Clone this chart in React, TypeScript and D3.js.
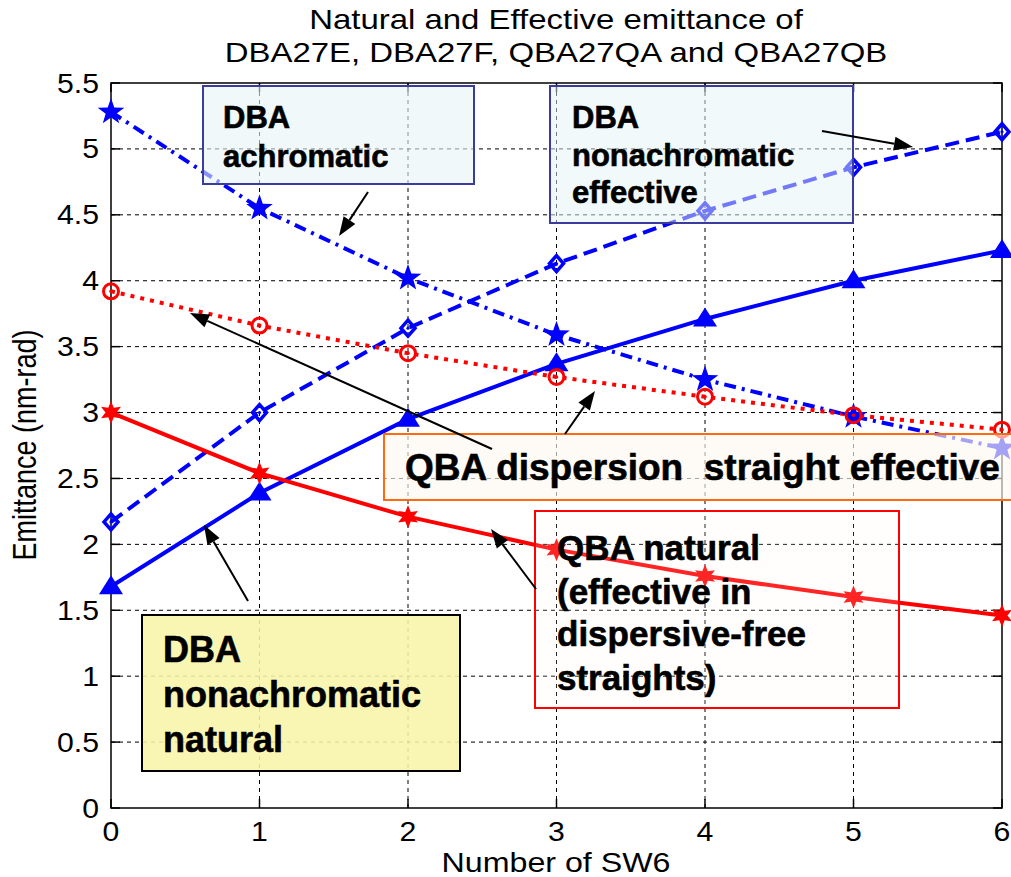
import React from "react";
import * as d3 from "d3";

// Number of SW6 cells inserted
const swCounts = [0, 1, 2, 3, 4, 5, 6];

// Emittance (nm-rad) for each lattice variant
const dbaAchromatic = [5.28, 4.55, 4.02, 3.59, 3.25, 2.97, 2.73];
const dbaNonachromaticEffective = [2.17, 3.0, 3.64, 4.13, 4.53, 4.86, 5.13];
const dbaNonachromaticNatural = [1.68, 2.39, 2.95, 3.37, 3.71, 4.0, 4.23];
const qbaDispersionEffective = [3.92, 3.66, 3.45, 3.27, 3.12, 2.98, 2.87];
const qbaNatural = [3.0, 2.54, 2.21, 1.96, 1.76, 1.6, 1.46];

const yTickValues = [0, 0.5, 1, 1.5, 2, 2.5, 3, 3.5, 4, 4.5, 5, 5.5];
const yTickLabels = ["0", "0.5", "1", "1.5", "2", "2.5", "3", "3.5", "4", "4.5", "5", "5.5"];
const xTickValues = [0, 1, 2, 3, 4, 5, 6];
const xTickLabels = ["0", "1", "2", "3", "4", "5", "6"];

const titleLines = ["Natural and Effective emittance of", "DBA27E, DBA27F, QBA27QA and QBA27QB"];
const xAxisTitle = "Number of SW6";
const yAxisTitle = "Emittance (nm-rad)";

const W = 1011;
const H = 877;
const FONT = "'Liberation Sans', Arial, Helvetica, sans-serif";

const x = d3.scaleLinear().domain([0, 6]).range([111, 1002]);
const y = d3.scaleLinear().domain([0, 5.5]).range([808, 83]);

const BLUE = "#0000ff";
const RED = "#ff0000";

function starPath(cx: number, cy: number, n: number, outer: number, inner: number) {
  const pts: [number, number][] = [];
  for (let i = 0; i < n * 2; i++) {
    const r = i % 2 === 0 ? outer : inner;
    const a = -Math.PI / 2 + (i * Math.PI) / n;
    pts.push([cx + r * Math.cos(a), cy + r * Math.sin(a)]);
  }
  return "M" + pts.map((p) => p.join(",")).join("L") + "Z";
}

function trianglePath(cx: number, cy: number, w: number, h: number) {
  return `M${cx},${cy - h * 0.6}L${cx + w / 2},${cy + h * 0.4}L${cx - w / 2},${cy + h * 0.4}Z`;
}

function diamondPath(cx: number, cy: number, rx: number, ry: number) {
  return `M${cx},${cy - ry}L${cx + rx},${cy}L${cx},${cy + ry}L${cx - rx},${cy}Z`;
}

const line = d3
  .line<number>()
  .x((_, i) => x(swCounts[i]))
  .y((d) => y(d));

function Txt(props: {
  x: number;
  y: number;
  size: number;
  sx?: number;
  sy?: number;
  rotate?: number;
  anchor?: "start" | "middle" | "end";
  bold?: boolean;
  children: React.ReactNode;
}) {
  const { sx = 1, sy = 1, rotate = 0 } = props;
  return (
    <text
      transform={`translate(${props.x},${props.y}) rotate(${rotate}) scale(${sx},${sy})`}
      fontSize={props.size}
      fontFamily={FONT}
      fontWeight={props.bold ? "bold" : "normal"}
      textAnchor={props.anchor ?? "start"}
      fill="#000"
      stroke={props.bold ? "#000" : "none"}
      strokeWidth={props.bold ? 0.6 : 0}
    >
      {props.children}
    </text>
  );
}

function Arrow({ x1, y1, x2, y2 }: { x1: number; y1: number; x2: number; y2: number }) {
  const ang = Math.atan2(y2 - y1, x2 - x1);
  const len = 19;
  const hw = 7;
  const bx = x2 - len * Math.cos(ang);
  const by = y2 - len * Math.sin(ang);
  const px = -Math.sin(ang) * hw;
  const py = Math.cos(ang) * hw;
  return (
    <g>
      <line x1={x1} y1={y1} x2={bx} y2={by} stroke="#000" strokeWidth={2} />
      <path d={`M${x2},${y2}L${bx + px},${by + py}L${bx - px},${by - py}Z`} fill="#000" />
    </g>
  );
}

export default function App() {
  const [x0, x1] = x.range();
  const [y0, y1] = y.range();
  return (
    <svg
      width={W}
      height={H}
      viewBox={`0 0 ${W} ${H}`}
      style={{ position: "absolute", left: 0, top: 0, background: "#fff" }}
    >
      <rect x={0} y={0} width={W} height={H} fill="#fff" />

      {/* title */}
      <Txt x={556} y={29} size={27} sx={1.22} anchor="middle">{titleLines[0]}</Txt>
      <Txt x={556} y={62} size={27} sx={1.22} anchor="middle">{titleLines[1]}</Txt>

      {/* grid */}
      <g stroke="#000" strokeWidth={1} strokeDasharray="4,4">
        {yTickValues.slice(1, -1).map((v) => (
          <line key={"gy" + v} x1={x0} x2={x1} y1={y(v)} y2={y(v)} />
        ))}
        {xTickValues.slice(1, -1).map((v) => (
          <line key={"gx" + v} x1={x(v)} x2={x(v)} y1={y0} y2={y1} />
        ))}
      </g>

      {/* axes box and ticks */}
      <rect x={x0} y={y1} width={x1 - x0} height={y0 - y1} fill="none" stroke="#000" strokeWidth={1.5} />
      <g stroke="#000" strokeWidth={1.5}>
        {yTickValues.map((v) => (
          <g key={"ty" + v}>
            <line x1={x0} x2={x0 + 9} y1={y(v)} y2={y(v)} />
            <line x1={x1} x2={x1 - 9} y1={y(v)} y2={y(v)} />
          </g>
        ))}
        {xTickValues.map((v) => (
          <g key={"tx" + v}>
            <line x1={x(v)} x2={x(v)} y1={y0} y2={y0 - 9} />
            <line x1={x(v)} x2={x(v)} y1={y1} y2={y1 + 9} />
          </g>
        ))}
      </g>
      {yTickValues.map((v, i) => (
        <Txt key={"ly" + v} x={99} y={y(v) + 9.5} size={27} sx={1.12} anchor="end">
          {yTickLabels[i]}
        </Txt>
      ))}
      {xTickValues.map((v, i) => (
        <Txt key={"lx" + v} x={x(v)} y={841} size={27} sx={1.12} anchor="middle">
          {xTickLabels[i]}
        </Txt>
      ))}
      <Txt x={556} y={872} size={28} sx={1.15} anchor="middle">{xAxisTitle}</Txt>
      <Txt x={36} y={445} size={27} sy={1.2} rotate={-90} anchor="middle">{yAxisTitle}</Txt>

      {/* series lines */}
      <path d={line(dbaAchromatic) ?? ""} fill="none" stroke={BLUE} strokeWidth={4} strokeDasharray="12,6,3,6" />
      <path d={line(dbaNonachromaticEffective) ?? ""} fill="none" stroke={BLUE} strokeWidth={4} strokeDasharray="14,7" />
      <path d={line(dbaNonachromaticNatural) ?? ""} fill="none" stroke={BLUE} strokeWidth={4} />
      <path d={line(qbaDispersionEffective) ?? ""} fill="none" stroke={RED} strokeWidth={4} strokeDasharray="4,6" />
      <path d={line(qbaNatural) ?? ""} fill="none" stroke={RED} strokeWidth={4} />

      {/* markers */}
      {dbaAchromatic.map((v, i) => (
        <path key={"m1" + i} d={starPath(x(swCounts[i]), y(v), 5, 14, 5.6)} fill={BLUE} />
      ))}
      {dbaNonachromaticEffective.map((v, i) => (
        <g key={"m2" + i}>
          <path d={diamondPath(x(swCounts[i]), y(v), 7, 8)} fill="none" stroke={BLUE} strokeWidth={3.5} />
          <circle cx={x(swCounts[i])} cy={y(v)} r={1.6} fill={BLUE} />
        </g>
      ))}
      {dbaNonachromaticNatural.map((v, i) => (
        <path key={"m3" + i} d={trianglePath(x(swCounts[i]), y(v), 24, 19)} fill={BLUE} />
      ))}
      {qbaDispersionEffective.map((v, i) => (
        <g key={"m4" + i}>
          <circle cx={x(swCounts[i])} cy={y(v)} r={7.5} fill="none" stroke={RED} strokeWidth={3} />
          <circle cx={x(swCounts[i])} cy={y(v)} r={1.8} fill={RED} />
        </g>
      ))}
      {qbaNatural.map((v, i) => (
        <path key={"m5" + i} d={starPath(x(swCounts[i]), y(v), 6, 11.5, 5.5)} fill={RED} />
      ))}

      {/* annotation boxes */}
      <rect x={203} y={86} width={271} height={98} fill="#e6f3f5" fillOpacity={0.6} stroke="#3b3b9e" strokeWidth={2} />
      <Txt x={223} y={128} size={31} bold>DBA</Txt>
      <Txt x={223} y={167} size={31} bold>achromatic</Txt>

      <rect x={550} y={86} width={303} height={137} fill="#e6f3f5" fillOpacity={0.5} stroke="#3b3b9e" strokeWidth={2} />
      <Txt x={572} y={128} size={31} bold>DBA</Txt>
      <Txt x={572} y={166} size={31} bold>nonachromatic</Txt>
      <Txt x={572} y={203} size={31} bold>effective</Txt>

      <rect x={384} y={434} width={660} height={66} fill="#fdf8f0" fillOpacity={0.65} stroke="#ff6a10" strokeWidth={2} />
      <Txt x={405} y={480} size={37} bold>QBA dispersion{"\u00a0\u00a0"}straight effective</Txt>

      <rect x={535} y={511} width={364} height={197} fill="#fdf8f2" fillOpacity={0.15} stroke={RED} strokeWidth={2} />
      <Txt x={557} y={560} size={35} bold>QBA natural</Txt>
      <Txt x={557} y={604} size={35} bold>(effective in</Txt>
      <Txt x={557} y={646} size={35} bold>dispersive-free</Txt>
      <Txt x={557} y={690} size={35} bold>straights)</Txt>

      <rect x={142} y={615} width={318} height={156} fill="#f8f4a8" fillOpacity={0.88} stroke="#000" strokeWidth={2} />
      <Txt x={163} y={662} size={36} bold>DBA</Txt>
      <Txt x={163} y={707} size={36} bold>nonachromatic</Txt>
      <Txt x={163} y={752} size={36} bold>natural</Txt>

      {/* arrows */}
      <Arrow x1={368} y1={192} x2={339} y2={236} />
      <Arrow x1={822} y1={131} x2={913} y2={147} />
      <Arrow x1={492} y1={449} x2={190} y2={313} />
      <Arrow x1={565} y1={434} x2={595} y2={391} />
      <Arrow x1={248} y1={601} x2={204} y2={525} />
      <Arrow x1={536} y1={589} x2={491} y2={529} />
    </svg>
  );
}
